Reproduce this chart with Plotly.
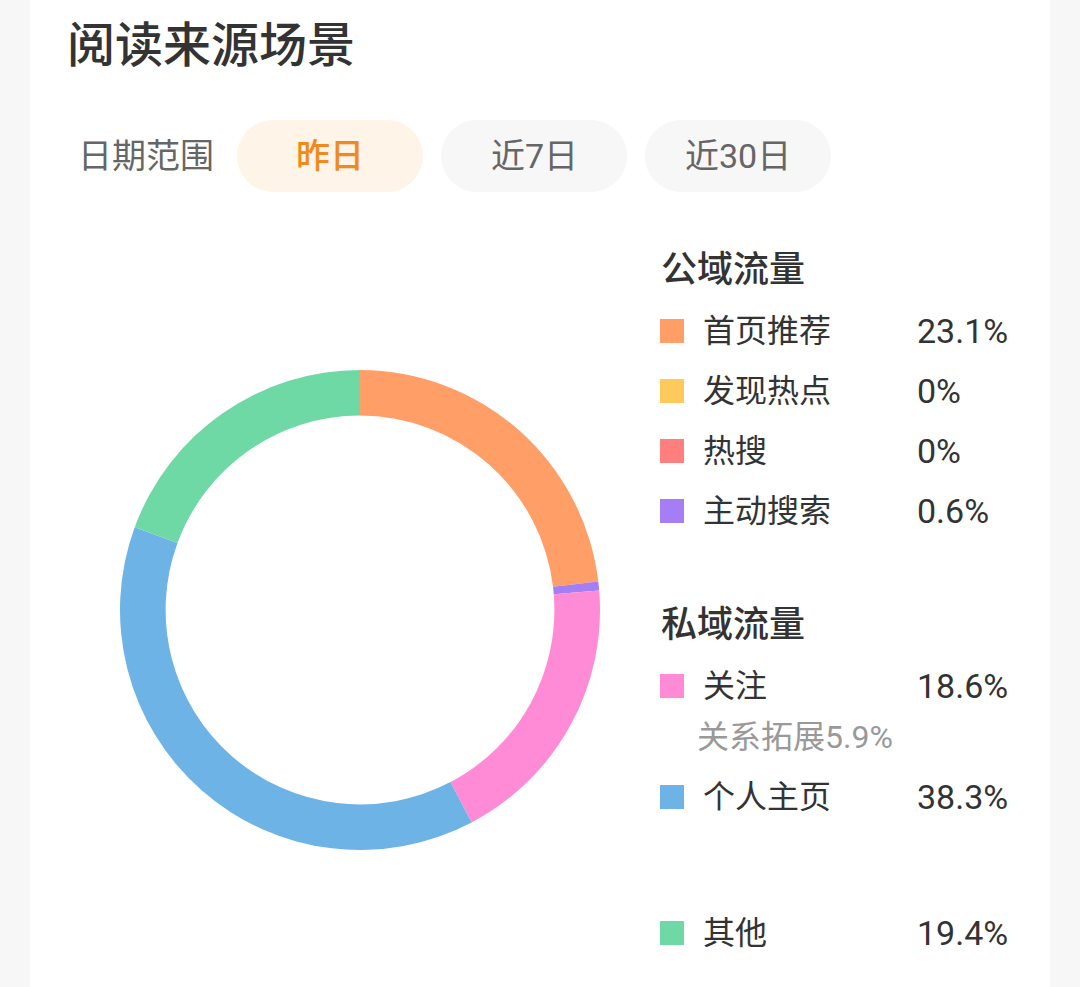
import plotly.graph_objects as go

# ---- data ----
title_text = "阅读来源场景"
range_label = "日期范围"
range_options = ["昨日", "近7日", "近30日"]
group_public = "公域流量"
group_private = "私域流量"
categories = ["首页推荐", "发现热点", "热搜", "主动搜索", "关注", "个人主页", "其他"]
values = [23.1, 0, 0, 0.6, 18.6, 38.3, 19.4]
value_labels = ["23.1%", "0%", "0%", "0.6%", "18.6%", "38.3%", "19.4%"]
sub_label = "关系拓展5.9%"
colors = ["#FF9E66", "#FFC95C", "#FF7F7F", "#A57EF6", "#FF8BD6", "#6DB3E5", "#6FD9A6"]

W, H = 1080, 987
FONT = "Roboto, 'Noto Sans CJK SC'"

fig = go.Figure()

# donut
cx, cy, r = 360, 610, 240
fig.add_trace(go.Pie(
    labels=categories, values=values, hole=0.81, sort=False,
    direction="clockwise", rotation=0,
    marker=dict(colors=colors, line=dict(width=0)),
    textinfo="none", hoverinfo="label+percent", showlegend=False,
    domain=dict(x=[(cx - r) / W, (cx + r) / W], y=[1 - (cy + r) / H, 1 - (cy - r) / H]),
))

shapes = []
ann = []

# background panels
shapes.append(dict(type="rect", xref="x", yref="y", x0=0, x1=30, y0=0, y1=H,
                   fillcolor="#F7F7F7", line=dict(width=0), layer="below"))
shapes.append(dict(type="rect", xref="x", yref="y", x0=1050, x1=W, y0=0, y1=H,
                   fillcolor="#F7F7F7", line=dict(width=0), layer="below"))


def pill(x0, x1, y0, y1, fill):
    rr = (y1 - y0) / 2
    k = 0.5523 * rr
    ym = (y0 + y1) / 2
    p = (f"M {x0 + rr},{y0} L {x1 - rr},{y0} "
         f"C {x1 - rr + k},{y0} {x1},{ym - k} {x1},{ym} "
         f"C {x1},{ym + k} {x1 - rr + k},{y1} {x1 - rr},{y1} "
         f"L {x0 + rr},{y1} "
         f"C {x0 + rr - k},{y1} {x0},{ym + k} {x0},{ym} "
         f"C {x0},{ym - k} {x0 + rr - k},{y0} {x0 + rr},{y0} Z")
    return dict(type="path", xref="x", yref="y", path=p, fillcolor=fill,
                line=dict(width=0), layer="below")


def text(x, y, s, size, color, weight=400, anchor="left"):
    ann.append(dict(x=x, y=y, xref="x", yref="y", text=s, showarrow=False,
                    xanchor=anchor, yanchor="middle",
                    font=dict(family=FONT, size=size, color=color, weight=weight)))


# title
text(65, 45, title_text, 48, "#333333", 500)
# date range
text(76, 156, range_label, 34, "#666666")
pill_x = [(237, 423), (441, 627), (645, 831)]
pill_fill = ["#FFF4E8", "#F7F7F7", "#F7F7F7"]
pill_col = ["#F08A1C", "#666666", "#666666"]
for (a, b), lbl, f, c in zip(pill_x, range_options, pill_fill, pill_col):
    shapes.append(pill(a, b, 120, 192, f))
    text((a + b) / 2, 156, lbl, 34, c, 500 if c != "#666666" else 400, anchor="center")

# legend
text(659, 270, group_public, 36, "#333333", 500)
text(659, 625, group_private, 36, "#333333", 500)
row_y = [331, 391, 451, 511, 686, 797, 933]
for i, (cat, vl, col, y) in enumerate(zip(categories, value_labels, colors, row_y)):
    shapes.append(dict(type="rect", xref="x", yref="y", x0=660, x1=684, y0=y - 12, y1=y + 12,
                       fillcolor=col, line=dict(width=0)))
    text(701, y, cat, 32, "#333333")
    text(915, y, vl, 34, "#333333")
text(695, 737, sub_label, 32, "#999999")

fig.update_layout(
    width=W, height=H, margin=dict(l=0, r=0, t=0, b=0),
    paper_bgcolor="white", plot_bgcolor="rgba(0,0,0,0)",
    xaxis=dict(range=[0, W], visible=False, fixedrange=True),
    yaxis=dict(range=[H, 0], visible=False, fixedrange=True),
    shapes=shapes, annotations=ann, showlegend=False,
)

fig.write_html("out.html", config={"displayModeBar": False},
               post_script="document.body.style.margin='0px';document.body.style.overflow='hidden';")
